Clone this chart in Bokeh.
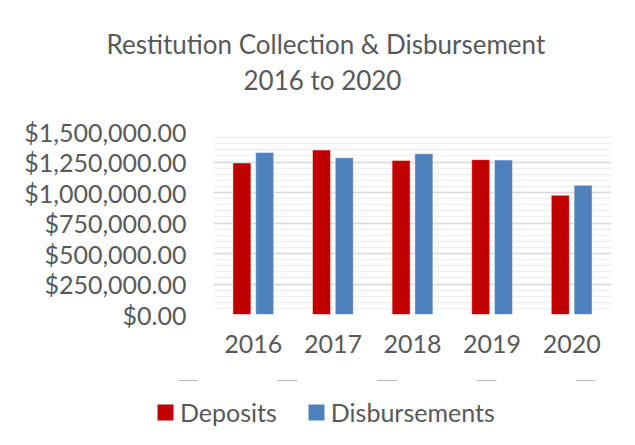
from bokeh.plotting import figure
from bokeh.layouts import column, row
from bokeh.models import (ColumnDataSource, FixedTicker, NumeralTickFormatter, Title,
                          Legend, LegendItem, FactorRange, Range1d, Spacer)
from bokeh.transform import dodge
from bokeh.embed import file_html
from bokeh.resources import INLINE

years = ["2016", "2017", "2018", "2019", "2020"]
deposits = [1242000, 1348000, 1263000, 1269000, 977000]
disbursements = [1328000, 1285000, 1318000, 1266000, 1059000]
series_names = ["Deposits", "Disbursements"]
series_colors = ["#C00000", "#4F81BD"]
title_lines = ["Restitution Collection & Disbursement", "2016 to 2020"]
y_ticks = [0, 250000, 500000, 750000, 1000000, 1250000, 1500000]
y_minor = list(range(0, 1500001, 50000))

FONT = "Lato"
TXT = "#595959"
FS = "25px"


def bare(fig):
    fig.outline_line_color = None
    fig.grid.grid_line_color = None
    return fig


# ---- header with the two title lines ----
head = figure(width=635, height=100, output_backend="svg", toolbar_location=None,
              x_axis_location=None, y_axis_location=None,
              min_border_left=11, min_border_right=0, min_border_top=97,
              min_border_bottom=0)
bare(head)
head.add_layout(Title(text=title_lines[1], align="left", offset=30, standoff=3,
                      text_font=FONT, text_font_size="26px", text_color=TXT,
                      text_font_style="normal"), "above")
head.add_layout(Title(text=title_lines[0], align="left", offset=-107, standoff=1,
                      text_font=FONT, text_font_size="26px", text_color=TXT,
                      text_font_style="normal"), "above")

# ---- main bar chart ----
src = ColumnDataSource(dict(year=years, dep=deposits, dis=disbursements))

p = figure(x_range=FactorRange(*years, range_padding=0), y_range=(0, 1500000),
           width=635, height=280, output_backend="svg", toolbar_location=None,
           min_border_left=213, min_border_right=24, min_border_top=31,
           min_border_bottom=66)

p.vbar(x=dodge("year", -0.143, range=p.x_range), top="dep", width=0.226,
       source=src, fill_color=series_colors[0], line_color="white", line_alpha=0.45)
p.vbar(x=dodge("year", 0.143, range=p.x_range), top="dis", width=0.226,
       source=src, fill_color=series_colors[1], line_color="white", line_alpha=0.45)

p.outline_line_color = None
p.xgrid.grid_line_color = None
p.ygrid.grid_line_color = "#d9d9d9"
p.ygrid.grid_line_width = 1.5
p.ygrid.minor_grid_line_color = "#f0f0f0"
p.ygrid.minor_grid_line_width = 1.5

p.yaxis.ticker = FixedTicker(ticks=y_ticks, minor_ticks=y_minor)
p.yaxis.formatter = NumeralTickFormatter(format="$0,0.00")
for ax in (p.xaxis, p.yaxis):
    ax.axis_line_color = None
    ax.major_tick_line_color = None
    ax.minor_tick_line_color = None
    ax.major_tick_out = 0
    ax.major_tick_in = 0
    ax.minor_tick_out = 0
    ax.minor_tick_in = 0
    ax.major_label_text_font = FONT
    ax.major_label_text_font_size = FS
    ax.major_label_text_color = TXT
p.yaxis.major_label_standoff = 27
p.xaxis.major_label_standoff = 20

# ---- legend strip (same series, drawn outside its visible range: only swatches show) ----
leg = figure(x_range=p.x_range, y_range=Range1d(-2, -1),
             width=635, height=65, output_backend="svg", toolbar_location=None,
             x_axis_location=None, y_axis_location=None,
             min_border_left=138, min_border_right=0, min_border_top=0,
             min_border_bottom=0)
bare(leg)
sw = [leg.vbar(x="year", top=col, width=0.2, source=src, fill_color=c, line_color=None)
      for col, c in zip(["dep", "dis"], series_colors)]
legend = Legend(items=[LegendItem(label=n, renderers=[r]) for n, r in zip(series_names, sw)],
                orientation="horizontal", location="top_left",
                padding=0, margin=17, spacing=29, label_standoff=5,
                glyph_width=20, glyph_height=20, label_height=20,
                border_line_color=None, background_fill_alpha=0,
                label_text_font=FONT, label_text_font_size=FS, label_text_color=TXT)
leg.add_layout(legend, "center")

layout = column(head, p, row(Spacer(width=0, height=65), leg), spacing=0)
open("out.html", "w").write(file_html(layout, INLINE))
